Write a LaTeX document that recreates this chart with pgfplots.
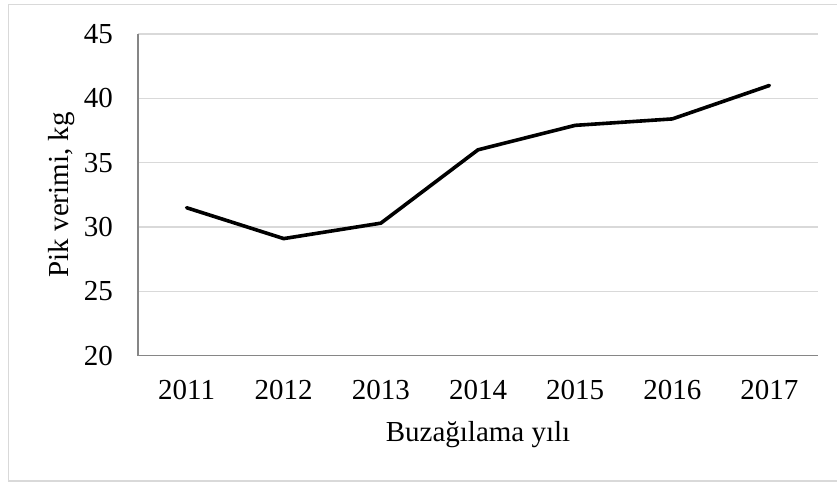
\documentclass[border=0pt]{standalone}
\usepackage{fontspec}
\setmainfont{Liberation Serif}
\usepackage{pgfplots}
\pgfplotsset{compat=1.18}
\definecolor{gridc}{HTML}{D9D9D9}
\definecolor{axc}{HTML}{868686}
\begin{document}
\fontsize{29bp}{34bp}\selectfont
\begin{tikzpicture}[x=1bp,y=1bp]
\path[use as bounding box] (-138,-126.3) rectangle (699,355.7);
\draw[gridc, line width=1.5bp] (699,351) -- (-129.7,351) -- (-129.7,-125.3) -- (699,-125.3);
\begin{axis}[
  at={(0,0)}, anchor=origin,
  scale only axis,
  width=680bp, height=321.7bp,
  xmin=2010.5, xmax=2017.5,
  ymin=20, ymax=45,
  xtick={2011,2012,2013,2014,2015,2016,2017},
  ytick={20,25,30,35,40,45},
  /pgf/number format/assume math mode=true,
  /pgf/number format/1000 sep={},
  major tick length=0pt,
  axis lines*=left,
  axis line style={draw=axc, line width=1.3bp, -},
  ymajorgrids,
  grid style={draw=gridc, line width=1.3bp},
  tick label style={font=\fontsize{29bp}{34bp}\selectfont, inner sep=0pt},
  xticklabel style={anchor=north, yshift=-24bp},
  yticklabel style={anchor=east, xshift=-25bp},
  xlabel={Buzağılama yılı},
  ylabel={Pik verimi, kg},
  label style={font=\fontsize{29bp}{34bp}\selectfont},
  xlabel style={at={([yshift=-79.3bp]axis description cs:0.5,0)}, anchor=center},
  ylabel style={at={([xshift=-76bp]axis description cs:0,0.5)}, anchor=center},
  clip=false,
]
\addplot[black, line width=3.6bp, line join=round, line cap=round] coordinates {
(2011,31.5) (2012,29.1) (2013,30.3) (2014,36.0) (2015,37.9) (2016,38.4) (2017,41.0)
};
\end{axis}
\end{tikzpicture}
\end{document}
